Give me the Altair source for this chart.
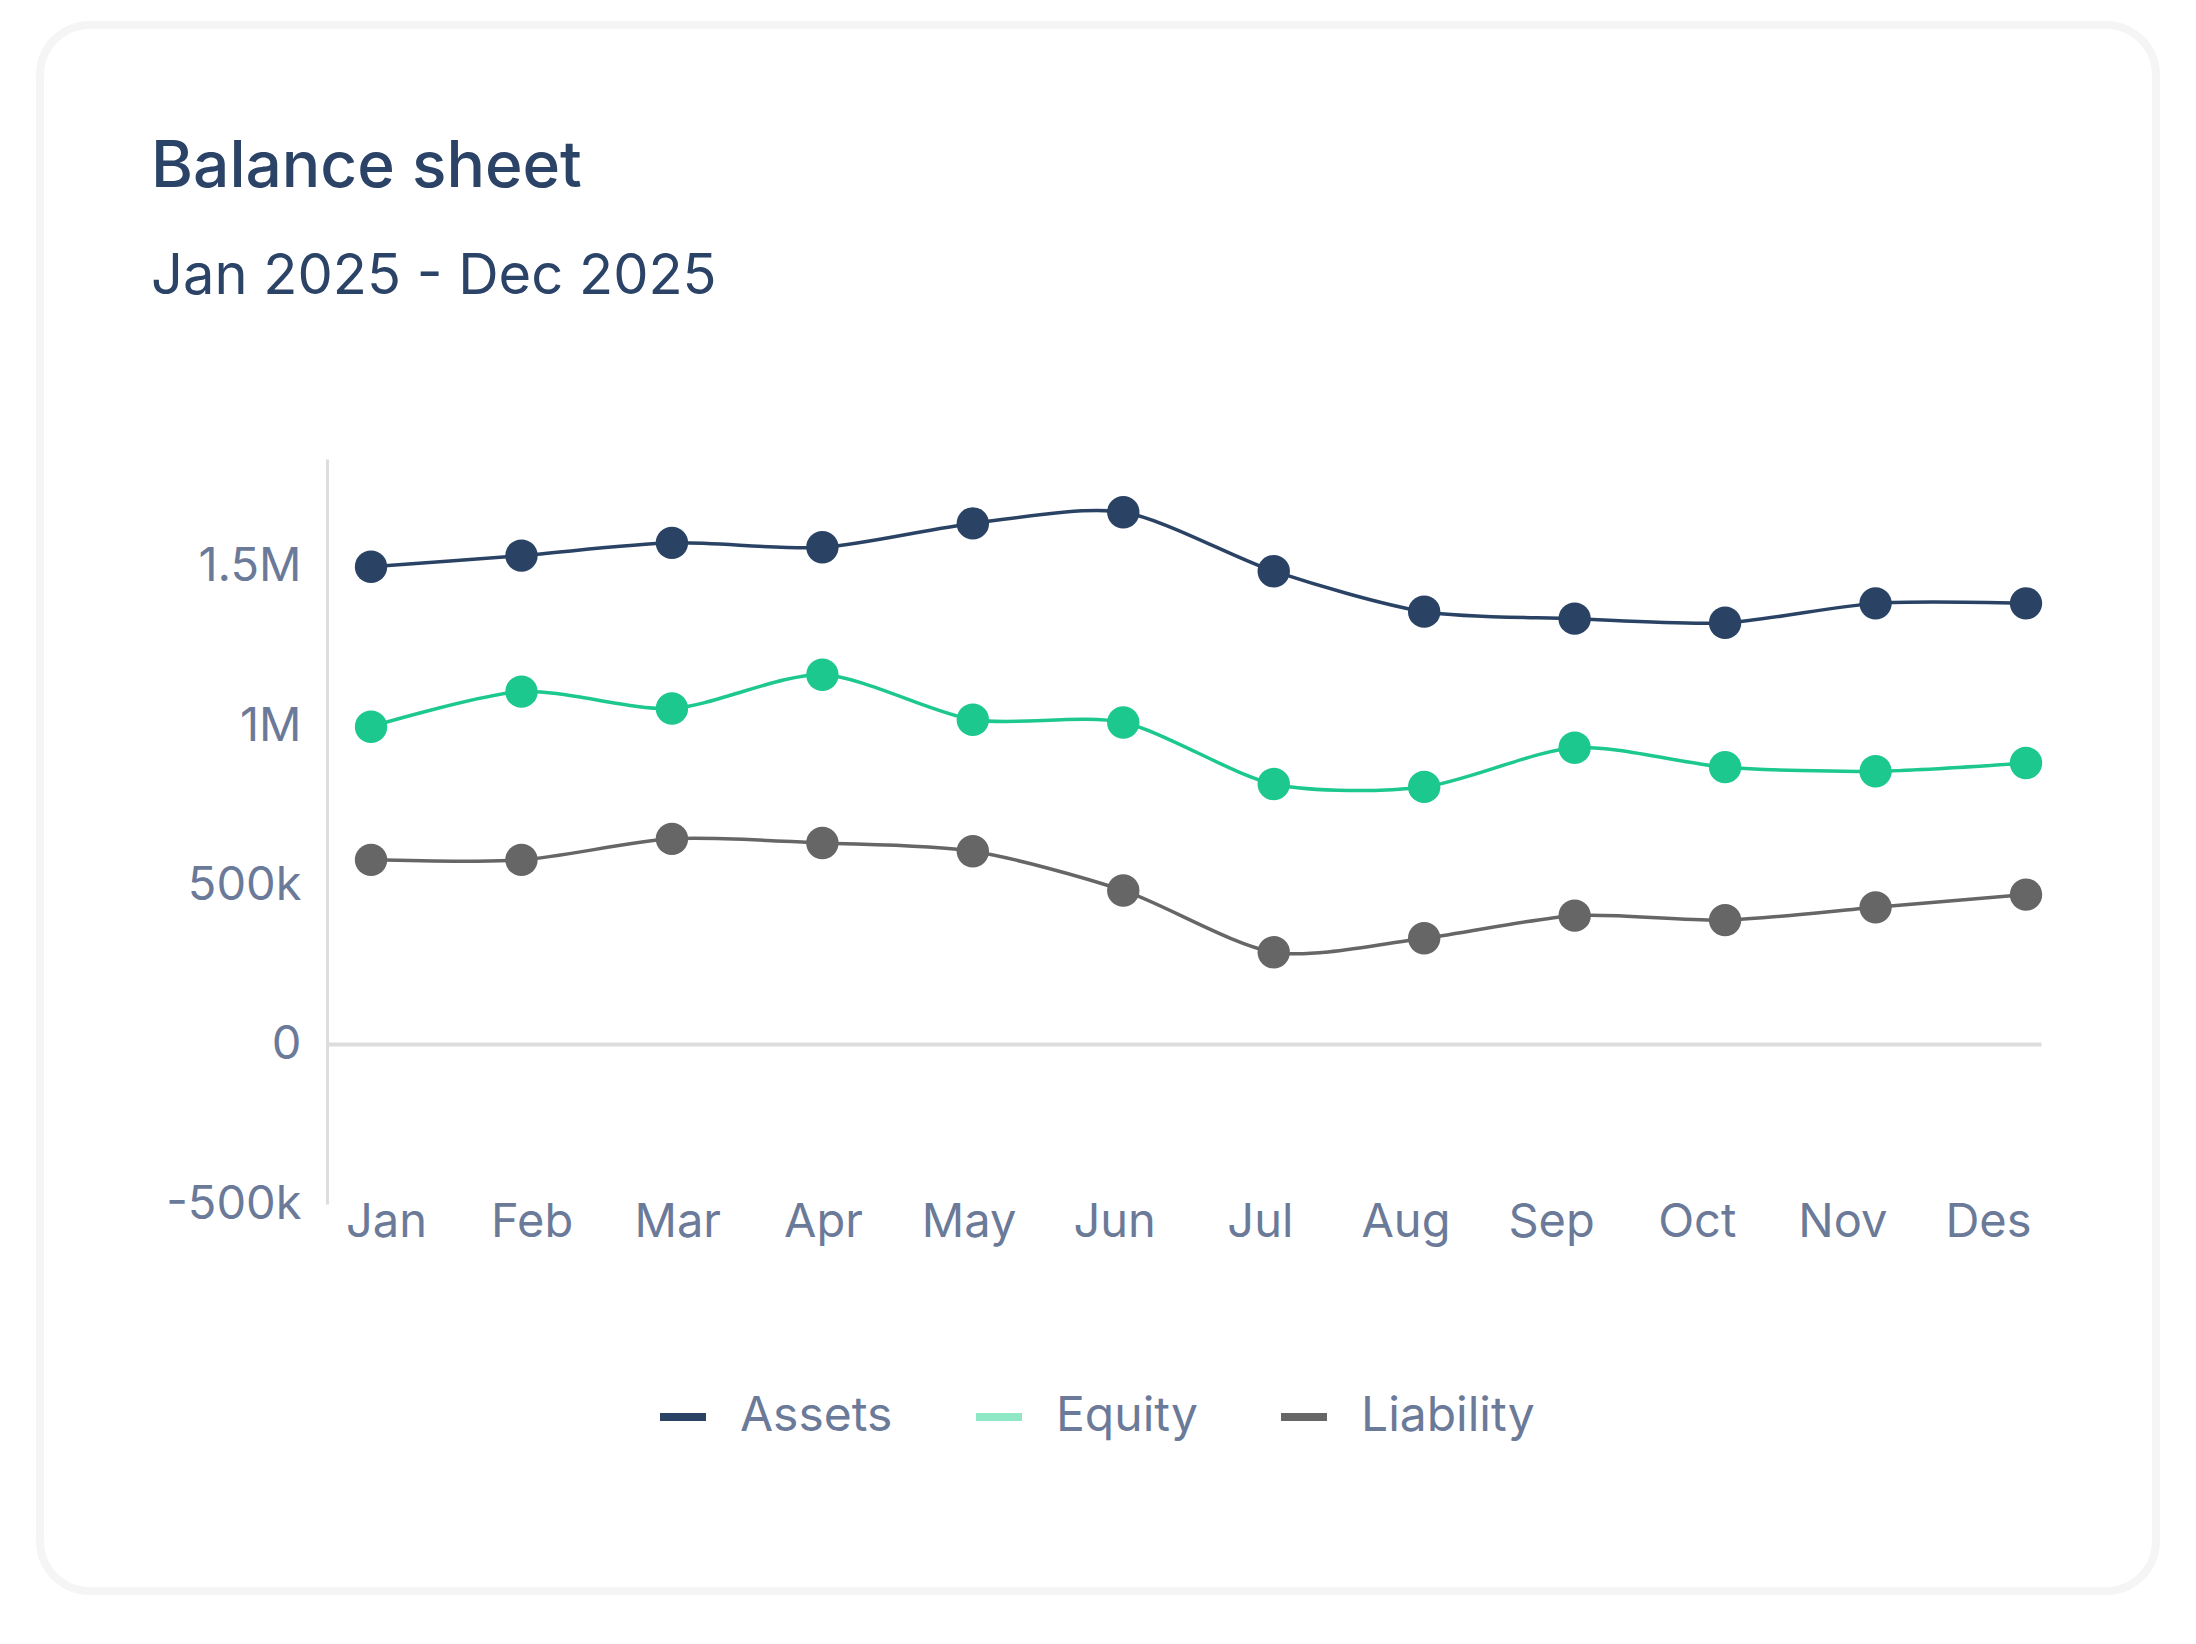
import altair as alt
import pandas as pd

months = ["Jan", "Feb", "Mar", "Apr", "May", "Jun", "Jul", "Aug", "Sep", "Oct", "Nov", "Des"]
series_names = ["Assets", "Equity", "Liability"]
assets = [1500000, 1535000, 1575000, 1561000, 1636000, 1671000, 1486000, 1359000, 1337000, 1324000, 1385000, 1385000]
equity = [998000, 1108000, 1055000, 1161000, 1020000, 1011000, 818000, 809000, 932000, 871000, 858000, 884000]
liability = [580000, 580000, 646000, 633000, 607000, 484000, 290000, 334000, 405000, 391000, 431000, 471000]
y_ticks = [-500000, 0, 500000, 1000000, 1500000]

line_colors = ["#2a4365", "#1cc88d", "#666666"]
legend_colors = ["#2a4365", "#8ee8c6", "#666666"]

rows = []
for name, vals in zip(series_names, [assets, equity, liability]):
    for m, v in zip(months, vals):
        rows.append({"month": m, "series": name, "key": name, "value": v})
df = pd.DataFrame(rows)
df_months = pd.DataFrame({"month": months})

y_max = max(assets + equity + liability) * 1.1

FONT = "Inter"
LABEL_COLOR = "#6b7a99"
W, H = 2116, 1566

y_scale = alt.Scale(domain=[-500000, y_max], range=[1179, 434], nice=False, zero=False)
x_scale = alt.Scale(type="point", range=[286, 2001], padding=0.1995, align=0.75)
# colour domain comes from the data (alphabetical = Assets, Equity, Liability)
color_scale = alt.Scale(range=line_colors)

label_expr = ("datum.value == 0 ? '0' : (datum.value < 0 ? '-' : '') + "
              "(abs(datum.value) >= 1000000 ? format(abs(datum.value) / 1000000, '~g') + 'M' : "
              "format(abs(datum.value) / 1000, '~g') + 'k')")

y_axis = alt.Axis(values=y_ticks, labelExpr=label_expr, offset=-287, domain=True,
                  domainColor="#dddddd", domainWidth=3, ticks=False, grid=False,
                  labelPadding=26, labelFontSize=47, labelColor=LABEL_COLOR,
                  labelFont=FONT, title=None, orient="left")

x_axis_zero = alt.Axis(labels=False, ticks=False, domain=True, domainColor="#dddddd",
                       domainWidth=4, offset=-547, title=None, grid=False, orient="bottom")

x_enc = alt.X("month:N", sort=months, scale=x_scale, axis=x_axis_zero)
y_enc = alt.Y("value:Q", scale=y_scale, axis=y_axis)
c_enc = alt.Color("series:N", scale=color_scale, legend=None)

lines = alt.Chart(df).mark_line(strokeWidth=3.5, interpolate="cardinal", tension=0.2).encode(
    x=x_enc, y=y_enc, color=c_enc, detail="series:N"
)
points = alt.Chart(df).mark_point(filled=True, size=1050, opacity=1).encode(
    x=x_enc, y=y_enc, color=c_enc
)

legend_layer = alt.Chart(df).transform_filter("false").mark_line(strokeWidth=8).encode(
    x=x_enc,
    y=y_enc,
    stroke=alt.Stroke("key:N", scale=alt.Scale(domain=series_names, range=legend_colors),
                      legend=alt.Legend(orient="none", legendX=616, legendY=1365,
                                        direction="horizontal", title=None,
                                        symbolType="stroke", symbolSize=2116,
                                        symbolStrokeWidth=8, labelFontSize=48,
                                        labelFont=FONT, labelColor=LABEL_COLOR,
                                        labelLimit=0, labelOffset=30,
                                        columnPadding=67, padding=0))
)

data_layer = alt.layer(lines, points, legend_layer)

label_axis = alt.Axis(offset=-392, domain=False, ticks=False, labelPadding=0,
                      labelFontSize=47, labelColor=LABEL_COLOR, labelFont=FONT,
                      labelAngle=0, title=None, grid=False, orient="bottom")
month_labels = alt.Chart(df_months).mark_point(opacity=0).encode(
    x=alt.X("month:N", sort=months,
            scale=alt.Scale(type="point", range=[346, 1948], padding=0),
            axis=label_axis)
)

chart = alt.layer(data_layer, month_labels).resolve_scale(
    x="independent"
).properties(
    width=W,
    height=H,
    padding={"left": 32, "top": 17, "right": 10, "bottom": 10},
    background="#ffffff",
    title=alt.TitleParams(
        text="Balance sheet",
        subtitle="Jan 2025 - Dec 2025",
        anchor="start",
        frame="group",
        dx=111,
        offset=-280,
        font=FONT,
        fontSize=64,
        fontWeight=500,
        color="#2b4366",
        subtitleFont=FONT,
        subtitleFontSize=56,
        subtitleFontWeight=400,
        subtitleColor="#2b4366",
        subtitlePadding=50,
    ),
).configure_view(
    fill="#ffffff", stroke="#f5f5f6", strokeWidth=8, cornerRadius=50
)

chart.save("out.html", embed_options={"renderer": "svg", "actions": False})
